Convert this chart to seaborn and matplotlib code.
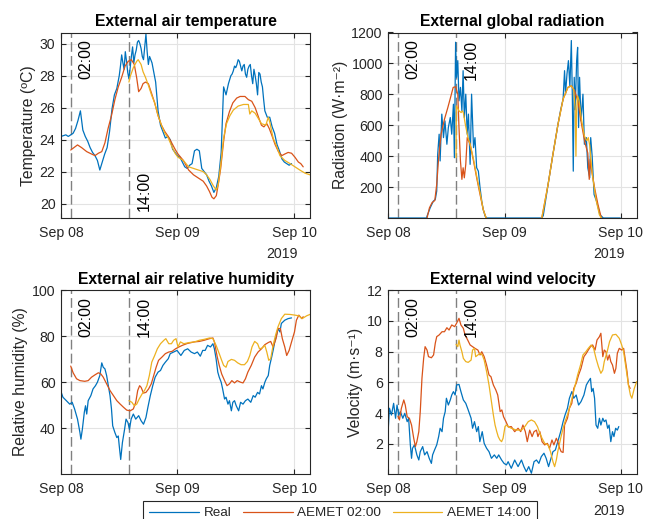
import numpy as np
import pandas as pd
import matplotlib
matplotlib.use("Agg")
import matplotlib.pyplot as plt
import matplotlib.transforms as mtransforms
import seaborn as sns

# ---------------- data (hours since 2019-09-08 00:00) ----------------
start_date = "2019-09-08"
tick_labels = ["Sep 08", "Sep 09", "Sep 10"]
tick_hours = [0, 24, 48]
forecast_hours = [2, 14]
forecast_text = ["02:00", "14:00"]
series_names = ["Real", "AEMET 02:00", "AEMET 14:00"]

# External air temperature (ºC)
temp_real_h = [0, 0.5, 1, 1.5, 2, 2.5, 3, 3.5, 4, 4.5, 5, 5.5, 6, 6.5, 7, 7.5, 8, 8.5, 9, 9.5,
               10, 10.5, 11, 11.5, 12, 12.25, 12.5, 12.75, 13, 13.25, 13.5, 13.75, 14, 14.25, 14.5,
               14.75, 15, 15.25, 15.5, 15.75, 16, 16.25, 16.5, 16.75, 17, 17.25, 17.5, 17.75, 18,
               18.25, 18.5, 18.75, 19, 19.5, 20, 20.5, 21, 21.5, 22, 22.5, 23, 23.5, 24, 24.5, 25,
               25.5, 26, 26.5, 27, 27.5, 28, 28.5, 29, 29.5, 30, 30.5, 31, 31.5, 32, 32.5, 33, 33.5,
               34, 34.5, 35, 35.25, 35.5, 35.75, 36, 36.25, 36.5, 36.75, 37, 37.25, 37.5, 37.75, 38,
               38.25, 38.5, 38.75, 39, 39.25, 39.5, 39.75, 40, 40.25, 40.5, 40.75, 41, 41.25, 41.5,
               41.75, 42, 42.5, 43, 43.5, 44, 44.5, 45, 45.5, 46, 46.5, 47, 47.5]
temp_real = [24.2, 24.25, 24.3, 24.2, 24.3, 24.4, 24.7, 25.2, 25.8, 24.6, 24.2, 23.9, 23.5, 23.2,
             23.0, 22.7, 22.1, 22.6, 23.1, 23.5, 24.5, 25.9, 26.8, 27.2, 28.0, 28.6, 29.3, 28.8,
             28.4, 29.5, 28.9, 28.2, 27.8, 28.5, 29.2, 29.8, 28.8, 29.3, 29.6, 30.1, 30.2, 30.0,
             29.7, 29.2, 29.0, 29.8, 30.6, 29.5, 28.7, 29.2, 29.0, 28.8, 28.4, 27.6, 25.8, 24.9,
             24.5, 24.1, 24.2, 24.0, 23.4, 23.2, 23.0, 22.9, 22.6, 22.3, 22.2, 22.4, 22.5, 23.3,
             23.4, 23.3, 22.2, 22.0, 21.8, 21.4, 21.1, 20.7, 21.0, 21.7, 23.2, 27.3, 26.8, 27.5,
             28.0, 28.1, 28.3, 28.6, 28.5, 28.7, 29.0, 28.9, 28.6, 28.3, 28.6, 28.7, 28.1, 27.9,
             28.4, 28.6, 28.7, 28.0, 27.5, 28.4, 28.0, 27.5, 26.8, 28.2, 28.1, 27.6, 27.3, 26.5,
             25.8, 25.4, 25.4, 24.8, 24.4, 23.7, 23.3, 22.8, 22.6, 22.5, 22.4, 22.5]
temp_a02_h = [2, 3.4, 4.25, 5.3, 6.3, 7.0, 7.7, 8.4, 9.05, 9.7, 10.4, 11.1, 11.8, 12.5, 13.2, 13.85,
              14.5, 15.1, 15.6, 16.0, 16.5, 16.9, 17.4, 18.0, 18.65, 19.3, 20.0, 20.7, 21.4, 22.1,
              22.8, 23.5, 24.1, 25.2, 26.3, 27.3, 28.3, 29.3, 30.0, 30.6, 31.1, 31.5, 32.0, 32.4,
              32.9, 33.5, 34.0, 34.7, 35.4, 36.2, 36.9, 37.9, 38.6, 39.3, 40.0, 40.7, 41.3, 41.8,
              42.4, 42.9, 43.4, 44.1, 44.8, 45.5, 46.1, 46.8, 47.5, 48.2, 48.9, 49.4, 49.9]
temp_a02 = [23.35, 23.67, 23.5, 23.25, 23.1, 23.0, 23.15, 23.25, 23.8, 24.7, 25.5, 26.5, 27.3, 27.9,
            28.6, 28.9, 29.0, 28.7, 27.85, 27.0, 27.2, 27.5, 27.6, 27.5, 26.9, 26.3, 25.5, 24.9,
            24.5, 24.2, 23.8, 23.4, 23.1, 22.7, 22.1, 21.8, 21.6, 21.4, 21.1, 20.75, 20.4, 20.3,
            20.5, 21.2, 22.2, 23.9, 25.0, 25.75, 26.3, 26.6, 26.7, 26.7, 26.5, 26.4, 26.0, 25.4,
            24.9, 24.8, 25.0, 24.7, 24.3, 23.7, 23.25, 23.0, 23.1, 23.2, 23.15, 22.9, 22.6, 22.5,
            22.3]
temp_a14_h = [14.0, 14.2, 14.9, 15.6, 15.9, 16.5, 16.9, 17.4, 18.0, 18.65, 19.3, 20.0, 20.7, 21.4,
              22.1, 22.8, 23.5, 24.1, 25.2, 26.3, 27.3, 28.3, 29.3, 30.0, 30.7, 31.4, 32.0, 32.4,
              32.9, 33.5, 34.1, 34.8, 35.5, 36.5, 37.6, 38.6, 38.9, 39.3, 40.0, 40.7, 41.3, 42.2,
              42.7, 43.0, 43.7, 44.4, 45.1, 46.1, 47.2, 48.2, 49.2, 50.3, 51.3]
temp_a14 = [27.6, 27.9, 28.5, 28.9, 29.0, 28.7, 28.25, 27.9, 27.4, 26.8, 26.3, 25.5, 24.9, 24.4,
            24.1, 23.6, 23.15, 22.9, 22.7, 22.3, 22.2, 22.1, 22.0, 21.8, 21.5, 21.1, 20.85, 21.2,
            22.4, 24.1, 25.0, 25.5, 25.85, 26.1, 26.2, 26.2, 25.6, 25.8, 25.65, 25.3, 25.0, 24.9,
            25.4, 25.1, 24.1, 23.6, 23.0, 22.7, 22.5, 22.3, 22.1, 21.9, 21.8]

# External global radiation (W·m-2)
rad_real_h = [0, 7.9, 8.0, 8.65, 9.3, 9.7, 10.0, 10.2, 10.5, 10.7, 11.05, 11.4, 11.7, 12.1, 12.4,
              12.8, 13.1, 13.45, 13.65, 13.9, 14.1, 14.35, 14.6, 14.9, 15.2, 15.45, 15.7, 16.0,
              16.3, 16.55, 16.9, 17.2, 17.6, 17.9, 18.25, 18.6, 18.95, 19.3, 19.6, 20.0, 20.3,
              31.7, 32.0, 33.0, 34.0, 35.05, 35.6, 36.1, 36.4, 36.6, 36.9, 37.2, 37.5, 37.8, 38.0,
              38.2, 38.4, 38.6, 38.9, 39.1, 39.3, 39.5, 39.8, 40.2, 40.5, 40.9, 41.2, 41.6, 41.8,
              42.1, 42.5, 43.0, 43.7, 44.4, 47.9]
rad_real = [0, 0, 12, 66, 109, 120, 174, 412, 542, 369, 672, 520, 628, 477, 585, 650, 542, 736,
            390, 1137, 910, 1018, 758, 845, 693, 953, 650, 801, 542, 672, 347, 801, 455, 520, 325,
            303, 195, 109, 55, 12, 0, 0, 15, 217, 412, 607, 700, 769, 953, 801, 931, 1018, 850,
            1148, 801, 303, 910, 700, 1018, 1104, 585, 910, 628, 801, 477, 520, 325, 260, 520, 400,
            152, 109, 22, 0, 0]
rad_a02_day1_h = [8.0, 8.5, 9.05, 9.6, 10.0, 10.4, 10.9, 11.6, 12.3, 12.95, 13.4, 13.9, 14.35,
                  14.6, 14.9, 15.2, 15.45, 15.7, 16.0, 16.3, 16.9, 17.6, 18.25, 18.95, 19.6, 20.2]
rad_a02_day1 = [0, 66, 100, 113, 217, 390, 542, 639, 715, 791, 845, 849, 801, 585, 369, 250, 325,
                260, 347, 520, 477, 369, 260, 152, 55, 0]
rad_a02_day2_h = [31.7, 33.0, 34.0, 35.05, 36.1, 37.1, 37.8, 38.5, 39.2, 39.9, 40.6, 41.2, 41.5,
                  41.7, 41.9, 42.6, 43.3, 44.0]
rad_a02_day2 = [0, 217, 412, 607, 769, 845, 855, 823, 747, 607, 488, 420, 250, 380, 325, 195, 87, 0]
rad_a14_day1_h = [14.0, 14.05, 14.6, 15.05, 15.3, 15.5, 15.9, 16.45, 16.9, 17.6, 18.25, 18.95,
                  19.6, 20.2]
rad_a14_day1 = [390, 726, 693, 682, 693, 682, 607, 520, 477, 380, 271, 163, 55, 0]
rad_a14_day2_h = [31.7, 33.0, 34.0, 35.05, 36.1, 37.1, 37.8, 38.3, 38.6, 38.75, 38.9, 39.1, 39.4,
                  39.9, 40.5, 41.0, 41.3, 41.6, 42.1, 42.9, 43.6, 44.0]
rad_a14_day2 = [0, 217, 412, 607, 769, 845, 855, 830, 700, 400, 700, 790, 760, 637, 530, 500, 520,
                470, 291, 118, 20, 0]

# External air relative humidity (%)
rh_real_h = [0, 0.4, 1.1, 1.8, 2.3, 2.8, 3.4, 3.9, 4.1, 4.4, 4.8, 5.05, 5.3, 5.6, 6.15, 6.6, 7.1,
             7.5, 8.0, 8.4, 8.7, 9.05, 9.4, 9.75, 10.1, 10.4, 10.65, 11.1, 11.5, 11.8, 12.0, 12.3,
             12.65, 13.1, 13.4, 13.8, 14.1, 14.45, 14.9, 15.4, 16.0, 16.5, 17.0, 17.5, 17.9, 18.4,
             18.9, 19.4, 20.0, 20.5, 21.0, 21.5, 22.1, 22.5, 23.2, 23.9, 24.7, 25.4, 26.1, 26.8,
             27.5, 28.1, 28.7, 29.2, 29.7, 30.2, 30.8, 31.3, 31.6, 31.95, 32.3, 32.6, 33.0, 33.3,
             33.7, 34.0, 34.4, 34.7, 35.1, 35.4, 35.75, 36.1, 36.6, 37.0, 37.5, 38.0, 38.5, 39.1,
             39.6, 40.0, 40.5, 40.9, 41.3, 41.6, 42.0, 42.3, 42.7, 43.0, 43.4, 43.7, 44.1, 44.4,
             44.7, 45.1, 45.4, 46.1, 46.8, 47.5]
rh_real = [55.9, 53.5, 52.0, 50.5, 51.3, 48.4, 44.0, 38.2, 35.3, 39.6, 46.9, 49.8, 46.2, 52.0,
           54.2, 57.1, 58.5, 60.0, 62.9, 68.4, 66.5, 65.8, 62.9, 58.5, 54.2, 48.4, 41.1, 38.2, 36.0,
           36.7, 32.4, 26.5, 33.8, 39.6, 44.0, 42.5, 39.6, 44.0, 46.2, 44.0, 45.5, 43.3, 41.8, 44.7,
           49.1, 54.2, 58.5, 62.2, 64.4, 65.1, 67.3, 68.7, 70.2, 72.4, 73.1, 73.8, 71.6, 73.8, 74.5,
           73.1, 72.4, 73.1, 71.3, 73.8, 73.8, 76.0, 75.3, 76.7, 74.5, 70.2, 64.4, 62.2, 60.0, 57.1,
           52.7, 53.5, 50.5, 52.0, 47.6, 51.3, 52.0, 49.8, 47.6, 51.3, 50.5, 52.0, 52.7, 51.3, 54.2,
           53.5, 55.6, 54.9, 58.5, 57.1, 60.0, 61.5, 62.9, 67.3, 70.9, 73.8, 78.2, 80.4, 83.3, 81.8,
           85.5, 86.9, 87.6, 87.9]
rh_a02_h = [2.0, 2.5, 3.2, 3.9, 4.9, 5.6, 6.3, 7.0, 7.7, 8.2, 8.7, 9.4, 10.1, 10.8, 11.5, 12.2,
            12.9, 13.55, 14.25, 14.9, 15.4, 15.8, 16.2, 16.5, 17.0, 17.5, 18.05, 18.6, 19.1, 19.6,
            20.1, 20.8, 21.5, 22.2, 22.9, 23.6, 24.3, 25.0, 26.0, 27.5, 28.5, 29.5, 30.6, 31.3,
            31.6, 32.2, 32.6, 33.1, 33.7, 34.2, 34.7, 35.2, 35.75, 36.3, 37.0, 37.5, 38.0, 38.5,
            39.2, 39.9, 40.6, 41.3, 42.0, 42.7, 43.2, 43.7, 44.3, 44.7, 45.2, 45.6, 46.1, 46.5,
            47.0, 47.5, 48.1, 48.5, 49.0, 49.6, 49.9]
rh_a02 = [67.0, 64.1, 61.5, 60.7, 60.4, 60.7, 62.2, 63.2, 64.1, 63.6, 62.2, 59.3, 56.4, 54.2, 52.0,
          50.5, 49.1, 47.9, 47.6, 48.4, 51.3, 56.4, 58.5, 57.8, 55.3, 55.6, 57.1, 59.3, 62.9, 66.5,
          69.5, 70.9, 72.4, 73.1, 73.4, 74.5, 75.3, 76.0, 76.8, 77.5, 77.7, 78.2, 78.9, 79.2, 77.5,
          70.9, 67.3, 63.6, 60.7, 58.5, 59.3, 60.7, 59.7, 60.7, 60.0, 59.7, 61.5, 64.4, 67.3, 70.9,
          73.1, 74.5, 76.3, 77.2, 77.7, 75.3, 78.9, 83.3, 83.3, 78.9, 75.3, 71.6, 73.8, 77.5, 81.8,
          86.9, 89.1, 87.6, 88.4]
rh_a14_h = [14.0, 14.6, 15.1, 15.6, 16.1, 16.7, 17.2, 17.7, 18.2, 18.7, 19.3, 19.85, 20.5, 21.2,
            21.6, 22.2, 22.75, 23.2, 23.7, 24.1, 24.6, 25.3, 26.4, 27.5, 28.5, 29.5, 30.6, 31.3,
            31.95, 32.6, 33.1, 33.5, 34.0, 34.4, 35.1, 35.75, 36.4, 37.1, 37.8, 38.4, 38.9, 39.35,
            39.9, 40.5, 40.9, 41.4, 42.0, 42.4, 42.8, 43.2, 43.7, 44.2, 44.7, 45.4, 46.1, 47.2,
            48.2, 49.0, 49.7, 50.6, 51.4]
rh_a14 = [52.0, 51.3, 49.8, 50.5, 52.7, 54.9, 56.4, 58.5, 62.9, 68.7, 71.6, 74.5, 76.7, 78.2, 78.9,
          76.7, 76.7, 78.2, 78.9, 75.3, 77.5, 76.7, 77.2, 77.5, 78.2, 78.6, 79.2, 78.9, 76.0, 72.4,
          69.5, 67.3, 66.5, 69.0, 69.9, 69.5, 68.4, 67.6, 67.6, 69.0, 71.6, 75.3, 77.7, 76.7, 74.5,
          74.8, 76.0, 73.1, 69.5, 70.2, 76.0, 80.4, 84.0, 87.6, 89.5, 89.4, 89.1, 88.8, 87.6, 88.8,
          89.5]

# External wind velocity (m·s-1)
wind_real_h = [0, 0.24, 0.65, 1.1, 1.5, 1.8, 2.15, 2.5, 3.0, 3.4, 3.9, 4.2, 4.55, 4.8, 5.0, 5.4,
               5.9, 6.3, 6.6, 7.1, 7.5, 8.0, 8.45, 8.9, 9.15, 9.55, 10.0, 10.4, 10.7, 11.1, 11.4,
               11.75, 12.0, 12.4, 12.8, 13.1, 13.45, 13.8, 14.1, 14.6, 15.0, 15.5, 16.0, 16.5, 17.1,
               17.4, 17.8, 18.25, 18.6, 18.9, 19.4, 19.8, 20.3, 20.8, 21.3, 21.9, 22.4, 22.8, 23.4,
               23.9, 24.4, 24.75, 25.4, 26.1, 26.8, 27.5, 28.0, 28.5, 29.0, 29.55, 30.1, 30.6, 31.1,
               31.6, 32.15, 32.6, 33.1, 33.5, 34.0, 34.5, 35.0, 35.6, 36.1, 36.5, 37.0, 37.4, 37.9,
               38.3, 38.8, 39.3, 39.8, 40.4, 40.9, 41.3, 41.75, 42.0, 42.3, 42.6, 42.9, 43.25, 43.6,
               43.9, 44.3, 44.6, 44.95, 45.3, 45.6, 45.95, 46.3, 46.6, 46.95, 47.3, 47.6]
wind_real = [3.02, 4.32, 3.88, 4.64, 3.67, 4.53, 3.88, 4.1, 3.67, 3.99, 3.45, 3.67, 1.94, 1.07,
             1.72, 1.94, 1.29, 0.96, 1.5, 1.83, 1.29, 1.5, 1.07, 0.74, 1.29, 1.61, 1.94, 2.48, 3.02,
             2.8, 3.67, 4.1, 4.97, 4.53, 4.86, 5.18, 5.4, 5.18, 5.83, 5.87, 5.4, 4.86, 4.64, 4.21,
             3.67, 3.02, 3.45, 2.8, 3.13, 2.15, 2.8, 2.04, 1.72, 1.5, 1.07, 1.29, 1.07, 1.29, 0.96,
             0.74, 0.64, 0.85, 0.42, 0.96, 0.53, 0.96, 0.53, 0.2, 0.53, 0.1, 0.85, 0.96, 0.74, 1.18,
             1.4, 1.07, 0.53, 0.96, 1.5, 1.61, 2.15, 2.8, 3.45, 3.88, 4.32, 4.97, 5.4, 4.97, 5.18,
             4.53, 4.75, 5.18, 5.83, 6.05, 6.26, 5.4, 5.61, 4.97, 3.23, 3.02, 3.67, 3.23, 3.67, 3.45,
             3.56, 3.02, 3.23, 2.15, 2.8, 2.48, 3.02, 2.9, 3.13]
wind_a02_h = [2.0, 2.3, 2.7, 3.2, 3.5, 3.9, 4.35, 4.8, 5.25, 5.6, 5.9, 6.3, 6.6, 6.95, 7.3, 7.6,
              8.0, 8.3, 8.9, 9.35, 9.7, 10.0, 10.5, 11.1, 11.6, 12.1, 12.55, 13.1, 13.7, 14.1, 14.6,
              15.0, 15.5, 15.85, 16.4, 16.9, 17.4, 17.9, 18.5, 18.95, 19.3, 19.8, 20.3, 20.8, 21.2,
              21.7, 22.2, 22.6, 23.1, 23.45, 23.8, 24.3, 24.8, 25.4, 26.1, 26.8, 27.35, 27.8, 28.3,
              28.7, 29.2, 29.7, 30.1, 30.6, 30.9, 31.3, 31.75, 32.3, 32.85, 33.3, 33.8, 34.2, 34.7,
              35.0, 35.4, 35.7, 36.1, 36.4, 37.0, 37.4, 37.9, 38.3, 38.8, 39.3, 39.8, 40.4, 40.9,
              41.3, 41.75, 42.2, 42.7, 43.1, 43.6, 43.9, 44.3, 44.6, 44.95, 45.3, 45.65, 45.95,
              46.3, 46.7, 47.0, 47.3, 47.7, 48.2, 48.6, 48.9, 49.3, 49.6, 49.95]
wind_a02 = [3.8, 3.56, 4.32, 4.86, 4.53, 3.77, 3.67, 3.23, 2.37, 1.83, 2.15, 2.8, 4.1, 6.26, 7.56,
            8.32, 8.1, 7.67, 7.6, 7.78, 8.54, 8.97, 9.08, 9.29, 9.29, 9.55, 9.4, 9.73, 9.62, 9.84,
            10.16, 9.73, 9.51, 9.08, 8.75, 8.43, 8.32, 8.21, 8.1, 7.78, 7.99, 7.67, 7.13, 6.48,
            6.37, 5.83, 5.51, 5.18, 4.1, 4.21, 3.77, 3.45, 3.1, 3.13, 2.8, 3.02, 2.8, 3.23, 2.8,
            2.15, 2.9, 2.48, 2.8, 2.9, 2.48, 2.8, 2.15, 1.94, 2.04, 1.72, 2.26, 1.94, 2.37, 2.15,
            1.72, 1.5, 1.45, 3.23, 3.67, 4.32, 4.64, 5.61, 5.94, 6.48, 6.91, 7.67, 7.89, 8.1, 8.32,
            8.43, 8.1, 8.75, 8.97, 9.19, 7.67, 8.1, 7.99, 7.45, 7.78, 7.35, 7.13, 6.59, 6.91, 7.89,
            8.21, 8.1, 8.21, 7.56, 6.7, 5.83, 5.61]
wind_a14_h = [14.0, 14.35, 14.6, 14.8, 15.2, 15.5, 16.0, 16.5, 17.1, 17.4, 17.8, 18.05, 18.5,
              18.95, 19.4, 19.8, 20.3, 20.8, 21.2, 21.7, 22.05, 22.4, 22.7, 23.05, 23.4, 23.7, 24.1,
              24.4, 24.75, 25.4, 26.5, 27.5, 28.2, 28.9, 29.55, 30.2, 30.8, 31.3, 31.75, 32.3, 33.0,
              33.5, 34.0, 34.35, 34.7, 35.0, 35.6, 36.1, 36.5, 37.1, 37.6, 38.1, 38.6, 39.1, 39.7,
              40.2, 40.8, 41.3, 41.9, 42.4, 42.9, 43.4, 43.9, 44.3, 44.6, 45.2, 45.7, 46.3, 47.0,
              47.7, 48.2, 48.6, 49.1, 49.6, 50.0, 50.3, 50.8, 51.3]
wind_a14 = [8.47, 8.32, 8.75, 8.43, 7.99, 7.56, 7.35, 7.3, 7.45, 8.1, 8.21, 7.67, 7.78, 7.89, 7.78,
            7.45, 6.7, 5.83, 4.97, 3.88, 3.23, 2.8, 2.48, 2.26, 2.15, 2.37, 3.13, 3.23, 3.13, 3.02,
            2.9, 2.9, 3.13, 3.45, 3.56, 3.45, 3.13, 2.69, 2.37, 2.04, 1.94, 1.5, 0.85, 0.53, 0.96,
            1.5, 2.37, 3.02, 3.45, 3.99, 4.53, 5.18, 5.83, 6.48, 7.13, 7.78, 7.99, 8.21, 8.43, 8.21,
            7.56, 7.02, 6.59, 6.8, 7.35, 7.99, 8.65, 9.08, 9.12, 8.86, 8.43, 7.99, 6.91, 5.83, 5.18,
            4.97, 5.61, 6.05]

# ---------------- style ----------------
sns.set_theme(style="whitegrid", rc={
    "axes.edgecolor": "#262626",
    "axes.linewidth": 0.8,
    "grid.color": "#e3e3e3",
    "grid.linewidth": 0.8,
    "xtick.direction": "in",
    "ytick.direction": "in",
    "xtick.top": True,
    "ytick.right": True,
    "xtick.bottom": True,
    "ytick.left": True,
    "xtick.major.size": 3.5,
    "ytick.major.size": 3.5,
    "xtick.major.width": 0.8,
    "ytick.major.width": 0.8,
    "xtick.color": "#262626",
    "ytick.color": "#262626",
    "xtick.labelsize": 10.2,
    "ytick.labelsize": 10.2,
    "xtick.major.pad": 5.5,
    "ytick.major.pad": 4,
    "axes.labelcolor": "#262626",
})
plt.rcParams["font.family"] = ["Liberation Sans", "DejaVu Sans"]

C_REAL, C_A02, C_A14 = "#0072BD", "#D95319", "#EDB120"
base = pd.Timestamp(start_date)


def to_time(hours):
    return base + pd.to_timedelta(np.asarray(hours, dtype=float), unit="h")


def draw(ax, hours, values, color, z=2):
    df = pd.DataFrame({"time": to_time(hours), "value": values})
    sns.lineplot(data=df, x="time", y="value", ax=ax, color=color, linewidth=0.9,
                 estimator=None, sort=False, legend=False, zorder=z)
    return ax.get_lines()[-1]


fig = plt.figure(figsize=(6.45, 5.19), dpi=100)
W, H = 645, 519


def add_axes(x0, y0, x1, y1):
    return fig.add_axes([x0 / W, 1 - y1 / H, (x1 - x0) / W, (y1 - y0) / H])


ax_t = add_axes(61, 32.5, 310, 218)
ax_r = add_axes(388.3, 32.5, 636.7, 218)
ax_h = add_axes(61, 290, 310, 474)
ax_w = add_axes(388.3, 290, 636.7, 474)

# temperature
h_real = draw(ax_t, temp_real_h, temp_real, C_REAL)
h_a02 = draw(ax_t, temp_a02_h, temp_a02, C_A02)
h_a14 = draw(ax_t, temp_a14_h, temp_a14, C_A14)
# radiation
draw(ax_r, rad_real_h, rad_real, C_REAL)
draw(ax_r, rad_a02_day1_h, rad_a02_day1, C_A02)
draw(ax_r, rad_a02_day2_h, rad_a02_day2, C_A02)
draw(ax_r, rad_a14_day1_h, rad_a14_day1, C_A14)
draw(ax_r, rad_a14_day2_h, rad_a14_day2, C_A14)
# humidity
draw(ax_h, rh_real_h, rh_real, C_REAL)
draw(ax_h, rh_a02_h, rh_a02, C_A02)
draw(ax_h, rh_a14_h, rh_a14, C_A14)
# wind
draw(ax_w, wind_real_h, wind_real, C_REAL)
draw(ax_w, wind_a02_h, wind_a02, C_A02)
draw(ax_w, wind_a14_h, wind_a14, C_A14)

panels = [
    (ax_t, "External air temperature", "Temperature (ºC)", (19.1, 30.7), [20, 22, 24, 26, 28, 30]),
    (ax_r, "External global radiation", "Radiation (W·m⁻²)", (0, 1200), [200, 400, 600, 800, 1000, 1200]),
    (ax_h, "External air relative humidity", "Relative humidity (%)", (20.2, 100), [40, 60, 80, 100]),
    (ax_w, "External wind velocity", "Velocity (m·s⁻¹)", (0.05, 12), [2, 4, 6, 8, 10, 12]),
]

for i, (ax, title, ylabel, ylim, yticks) in enumerate(panels):
    ax.set_xlim(to_time([0])[0], to_time([51.3])[0])
    ax.set_ylim(*ylim)
    ax.set_yticks(yticks)
    ax.set_xticks(list(to_time(tick_hours)))
    ax.set_xticklabels(tick_labels)
    ax.set_title(title, fontsize=11.3, fontweight="bold", pad=4.5, color="black")
    ax.set_ylabel(ylabel, fontsize=11.3, labelpad=2.5)
    ax.set_xlabel("")
    ax.grid(True, color="#e3e3e3", linewidth=0.8)
    ax.set_axisbelow(True)
    for s in ax.spines.values():
        s.set_visible(True)
        s.set_color("#262626")
        s.set_linewidth(0.8)
    trans = mtransforms.blended_transform_factory(ax.transData, ax.transAxes)
    for fh, ftxt in zip(forecast_hours, forecast_text):
        ax.axvline(to_time([fh])[0], color="#808080", linestyle=(0, (7, 3)), linewidth=1.0, zorder=1.5)
        if i == 0 and ftxt == "14:00":
            ax.text(to_time([fh + 3.05])[0], 0.04, ftxt, rotation=90, ha="center", va="bottom",
                    transform=trans, fontsize=11.5, color="black")
        else:
            ax.text(to_time([fh + 3.05])[0], 0.962, ftxt, rotation=90, ha="center", va="top",
                    transform=trans, fontsize=11.5, color="black")
    yoff = -0.194 if i < 2 else -0.201
    ax.text(0.888, yoff, "2019", transform=ax.transAxes, ha="center", va="center",
            fontsize=10.2, color="#262626")

leg = fig.legend([h_real, h_a02, h_a14], series_names, loc="upper center",
                 bbox_to_anchor=(0.527, 1 - 501 / H), ncol=3, frameon=True, fancybox=False,
                 edgecolor="#262626", framealpha=1, fontsize=9.7, handlelength=3.7,
                 handletextpad=0.35, columnspacing=0.85, borderpad=0.45, borderaxespad=0)
leg.get_frame().set_linewidth(0.8)

fig.savefig("out.png", dpi=100)
